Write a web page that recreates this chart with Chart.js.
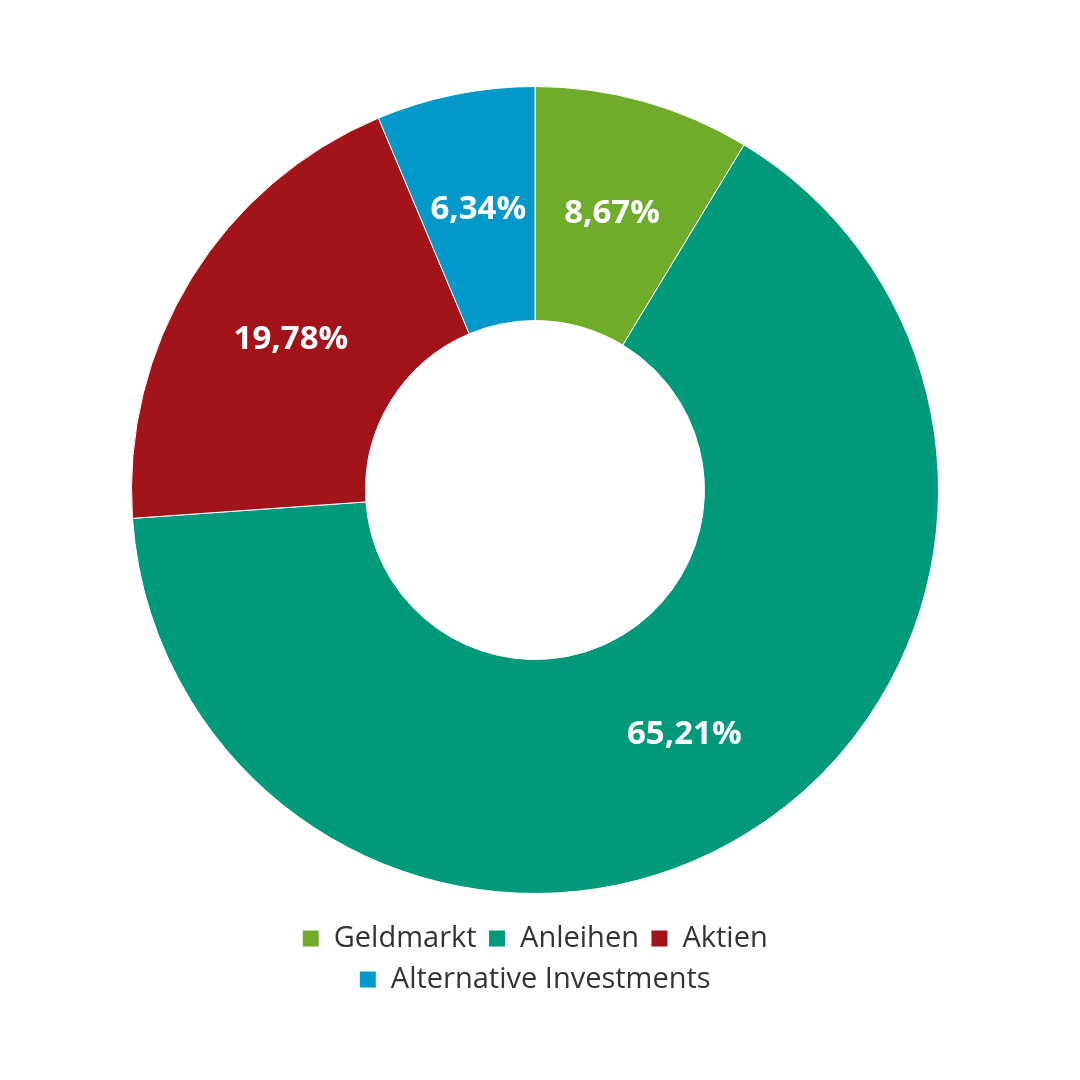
<!DOCTYPE html>
<html>
<head>
<meta charset="utf-8">
<script src="https://cdn.jsdelivr.net/npm/chart.js@4"></script>
<style>
  html, body { margin: 0; padding: 0; background: #fff; }
  #wrap { width: 1080px; height: 1080px; }
</style>
</head>
<body>
<div id="wrap"><canvas id="chart" width="1080" height="1080"></canvas></div>
<script>
// Data
const categories = ['Geldmarkt', 'Anleihen', 'Aktien', 'Alternative Investments'];
const shares = [8.67, 65.21, 19.78, 6.34];
const colors = ['#6fac2a', '#009a7b', '#a3131a', '#0599cb'];

// Draw the percentage labels in the middle of each slice
const sliceLabels = {
  id: 'sliceLabels',
  afterDatasetsDraw(chart) {
    const ctx = chart.ctx;
    const meta = chart.getDatasetMeta(0);
    ctx.save();
    ctx.fillStyle = '#ffffff';
    ctx.font = 'bold 33px "Open Sans", "Noto Sans", sans-serif';
    ctx.textAlign = 'center';
    ctx.textBaseline = 'middle';
    meta.data.forEach((arc, i) => {
      const p = arc.tooltipPosition();
      ctx.fillText(shares[i].toFixed(2).replace('.', ',') + '%', p.x, p.y);
    });
    ctx.restore();
  }
};

new Chart(document.getElementById('chart'), {
  type: 'doughnut',
  data: {
    labels: categories,
    datasets: [{
      data: shares,
      backgroundColor: colors,
      borderColor: '#ffffff',
      borderWidth: 1
    }]
  },
  options: {
    responsive: false,
    animation: false,
    cutout: '42%',
    layout: { padding: { top: 68, bottom: 76, left: 131, right: 141 } },
    plugins: {
      tooltip: { enabled: false },
      legend: {
        position: 'bottom',
        labels: {
          color: '#333333',
          font: { size: 29, family: '"Open Sans", "Noto Sans", sans-serif' },
          boxWidth: 17,
          boxHeight: 17,
          padding: 12
        }
      }
    }
  },
  plugins: [sliceLabels]
});
</script>
</body>
</html>
